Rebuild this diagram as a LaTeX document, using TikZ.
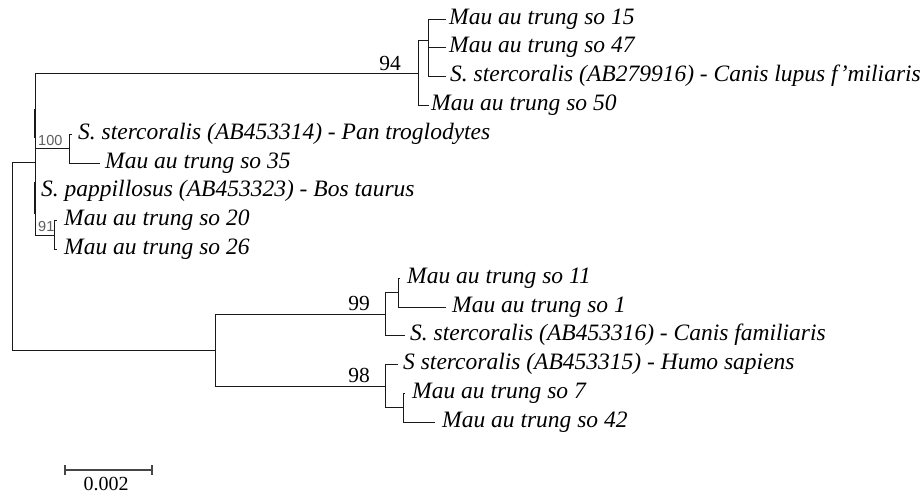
\documentclass[tikz,border=0pt]{standalone}
\usepackage{fontspec}
\setmainfont{Liberation Serif}
\newfontfamily\smallsans{Liberation Sans}
\definecolor{treeline}{RGB}{25,25,25}
\definecolor{bsgray}{RGB}{95,95,95}
\definecolor{barline}{RGB}{70,70,70}
\begin{document}
\begin{tikzpicture}[x=1pt,y=-1pt,
  branch/.style={draw=treeline,line width=1pt},
  overlap/.style={draw=treeline,line width=2.2pt},
  leaf/.style={anchor=base west,inner sep=0pt,font=\fontsize{23.5}{28}\selectfont\itshape},
  boot/.style={anchor=base east,inner sep=0pt,font=\fontsize{21.5}{25}\selectfont},
  bootsmall/.style={anchor=base west,inner sep=0pt,text=bsgray,font=\smallsans\fontsize{14.5}{17}\selectfont},
  scalebar/.style={draw=barline,line width=1.2pt},
  scalelabel/.style={anchor=base,inner sep=0pt,font=\fontsize{20}{24}\selectfont}
]
\useasboundingbox (0,0) rectangle (920,496);
\fill[white] (0,0) rectangle (920,496);

% internal nodes
\coordinate (root) at (12,256);
\coordinate (U) at (35,162);
\coordinate (A) at (418,73);
\coordinate (A1) at (428,40.6);
\coordinate (B) at (69,148.6);
\coordinate (C) at (54,235);
\coordinate (D) at (215,350.2);
\coordinate (E) at (385,314.2);
\coordinate (E1) at (398,292.6);
\coordinate (F) at (385,386.2);
\coordinate (F1) at (403,407.8);
\coordinate (Ua) at (35,109);
\coordinate (Ub) at (35,138);
\coordinate (Uc) at (35,182);
\coordinate (Ud) at (35,214);

% leaf tips
\coordinate (t15) at (446,19);
\coordinate (t47) at (446,47.8);
\coordinate (tCL) at (446,76.6);
\coordinate (t50) at (429,105.4);
\coordinate (tPT) at (72,134.2);
\coordinate (t35) at (100,163);
\coordinate (tBT) at (35,191.8);
\coordinate (t20) at (57,220.6);
\coordinate (t26) at (57,249.4);
\coordinate (t11) at (400,278.2);
\coordinate (t1) at (446,307);
\coordinate (tCF) at (405,335.8);
\coordinate (tHS) at (398,364.6);
\coordinate (t7) at (405,393.4);
\coordinate (t42) at (435,422.2);

% root
\draw[branch] (U) -- (root |- U) -- (root |- D) -- (D);
% U
\draw[branch] (U |- A) -- (U |- C);
\draw[overlap] (Ua) -- (Ub);
\draw[overlap] (Uc) -- (Ud);
\draw[branch] (U |- A) -- (A);
\draw[branch] (U |- B) -- (B);
\draw[branch] (U |- C) -- (C);
% A
\draw[branch] (A |- A1) -- (A |- t50);
\draw[branch] (A |- A1) -- (A1);
\draw[branch] (A |- t50) -- (t50);
% A1
\draw[branch] (A1 |- t15) -- (A1 |- tCL);
\draw[branch] (A1 |- t15) -- (t15);
\draw[branch] (A1 |- t47) -- (t47);
\draw[branch] (A1 |- tCL) -- (tCL);
% B
\draw[branch] (B |- tPT) -- (B |- t35);
\draw[branch] (B |- tPT) -- (tPT);
\draw[branch] (B |- t35) -- (t35);
% C
\draw[branch] (C |- t20) -- (C |- t26);
\draw[branch] (C |- t20) -- (t20);
\draw[branch] (C |- t26) -- (t26);
% D
\draw[branch] (D |- E) -- (D |- F);
\draw[branch] (D |- E) -- (E);
\draw[branch] (D |- F) -- (F);
% E
\draw[branch] (E |- E1) -- (E |- tCF);
\draw[branch] (E |- E1) -- (E1);
\draw[branch] (E |- tCF) -- (tCF);
% E1
\draw[branch] (E1 |- t11) -- (E1 |- t1);
\draw[branch] (E1 |- t11) -- (t11);
\draw[branch] (E1 |- t1) -- (t1);
% F
\draw[branch] (F |- tHS) -- (F |- F1);
\draw[branch] (F |- tHS) -- (tHS);
\draw[branch] (F |- F1) -- (F1);
% F1
\draw[branch] (F1 |- t7) -- (F1 |- t42);
\draw[branch] (F1 |- t7) -- (t7);
\draw[branch] (F1 |- t42) -- (t42);

% leaf labels
\node[leaf] (l15) at ([xshift=3pt,yshift=-5pt]t15) {Mau au trung so 15};
\node[leaf] (l47) at ([xshift=3pt,yshift=-5pt]t47) {Mau au trung so 47};
\node[leaf] (lCL) at ([xshift=4pt,yshift=-5pt]tCL) {S. stercoralis (AB279916) - Canis lupus f'miliaris};
\node[leaf] (l50) at ([xshift=2pt,yshift=-5pt]t50) {Mau au trung so 50};
\node[leaf] (lPT) at ([xshift=6pt,yshift=-5pt]tPT) {S. stercoralis (AB453314) - Pan troglodytes};
\node[leaf] (l35) at ([xshift=5pt,yshift=-5pt]t35) {Mau au trung so 35};
\node[leaf] (lBT) at ([xshift=6pt,yshift=-5pt]tBT) {S. pappillosus (AB453323) - Bos taurus};
\node[leaf] (l20) at ([xshift=7pt,yshift=-5pt]t20) {Mau au trung so 20};
\node[leaf] (l26) at ([xshift=7pt,yshift=-5pt]t26) {Mau au trung so 26};
\node[leaf] (l11) at ([xshift=7pt,yshift=-5pt]t11) {Mau au trung so 11};
\node[leaf] (l1) at ([xshift=6pt,yshift=-5pt]t1) {Mau au trung so 1};
\node[leaf] (lCF) at ([xshift=5pt,yshift=-5pt]tCF) {S. stercoralis (AB453316) - Canis familiaris};
\node[leaf] (lHS) at ([xshift=5pt,yshift=-5pt]tHS) {S stercoralis (AB453315) - Humo sapiens};
\node[leaf] (l7) at ([xshift=7pt,yshift=-5pt]t7) {Mau au trung so 7};
\node[leaf] (l42) at ([xshift=7pt,yshift=-5pt]t42) {Mau au trung so 42};

% bootstrap values
\node[boot] (b94) at (401,70) {94};
\node[boot] (b99) at (370,310.2) {99};
\node[boot] (b98) at (370,382.2) {98};
\node[bootsmall] (b100) at (38,145.6) {100};
\node[bootsmall] (b91) at (38,231.5) {91};

% scale bar
\coordinate (s1) at (65,470);
\coordinate (s2) at (152,470);
\draw[scalebar] (s1) -- (s2);
\draw[scalebar] ([yshift=5pt]s1) -- ([yshift=-5pt]s1);
\draw[scalebar] ([yshift=5pt]s2) -- ([yshift=-5pt]s2);
\node[scalelabel] (sl) at (106,490.5) {0.002};
\end{tikzpicture}
\end{document}
